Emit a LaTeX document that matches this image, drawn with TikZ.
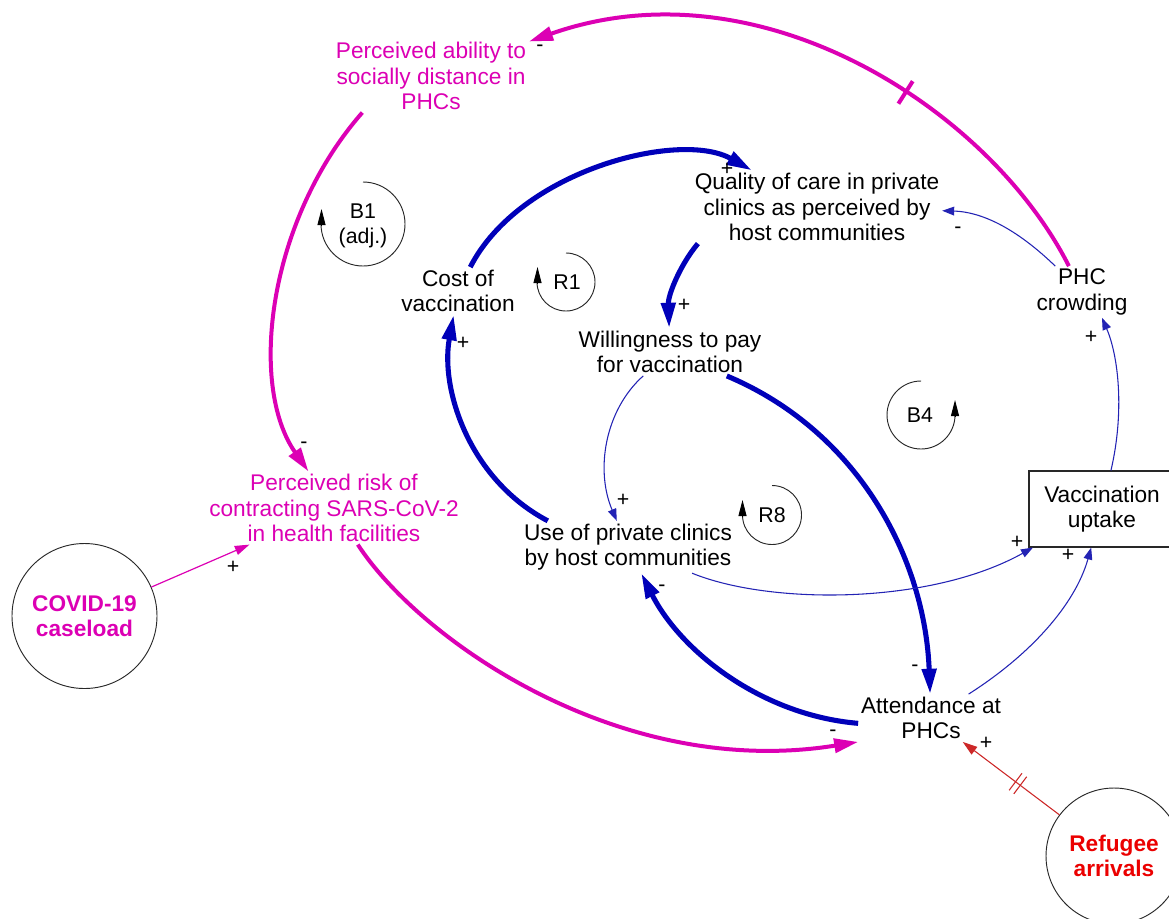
\documentclass[tikz,border=0pt]{standalone}
\usepackage{fontspec}
\setmainfont{Liberation Sans}
\usetikzlibrary{arrows.meta,decorations.markings}
\definecolor{mag}{RGB}{220,0,180}
\definecolor{dblue}{RGB}{0,0,185}
\definecolor{tblue}{RGB}{35,35,180}
\definecolor{rred}{RGB}{235,0,0}
\definecolor{lred}{RGB}{205,40,40}
\definecolor{loopc}{RGB}{40,40,40}
\begin{document}
\begin{tikzpicture}[x=0.75pt,y=-0.75pt,
  var/.style={align=center,inner sep=2pt,font=\fontsize{17}{19}\selectfont},
  exo/.style={circle,draw=loopc,line width=0.7pt,inner sep=0pt,align=center,font=\fontsize{17}{19}\selectfont\bfseries},
  looplbl/.style={align=center,inner sep=0pt,font=\fontsize{16}{19}\selectfont},
  pol/.style={inner sep=0pt,font=\fontsize{16}{16}\selectfont},
  thickblue/.style={draw=dblue,line width=3.8pt,-{Triangle[length=19pt,width=10.5pt]}},
  thinblue/.style={draw=tblue,line width=0.8pt,-{Triangle[length=9pt,width=6.5pt]}},
  thickmag/.style={draw=mag,line width=3pt,-{Triangle[length=18pt,width=10.5pt]}},
  thinmag/.style={draw=mag,line width=0.9pt,-{Triangle[length=11pt,width=7pt]}},
  redlink/.style={draw=lred,line width=0.8pt,-{Triangle[length=11pt,width=7pt]}},
  loopline/.style={draw=loopc,line width=0.7pt},
  looptip/.style={draw=black,fill=black,line width=0.7pt,-{Triangle[length=12pt,width=6pt]}}
]
\fill[white] (0,0) rectangle (1169,918);
\useasboundingbox (0,0) rectangle (1169,918);

% variables
\node[var,text=mag] (ability) at (431,76) {Perceived ability to\\socially distance in\\PHCs};
\node[var] (quality) at (817,207) {Quality of care in private\\clinics as perceived by\\host communities};
\node[var] (cost) at (458,291) {Cost of\\vaccination};
\node[var] (will) at (670,352) {Willingness to pay\\for vaccination};
\node[var] (phc) at (1082,292) {PHC\\crowding};
\node[var,text=mag] (risk) at (334,508) {Perceived risk of\\contracting SARS-CoV-2\\in health facilities};
\node[var] (use) at (628,547) {Use of private clinics\\by host communities};
\node[var,draw=loopc,line width=0.8pt,minimum width=109.5pt,minimum height=57pt] (vacc) at (1102,509) {Vaccination\\uptake};
\node[var] (att) at (931,718) {Attendance at\\PHCs};
\node[exo,text=mag,minimum size=108.75pt] (covid) at (84.5,616) {COVID-19\\caseload};
\node[exo,text=rred,minimum size=102pt] (refugee) at (1114,856) {Refugee\\arrivals};

% loop markers
\node[looplbl] (b1) at (363,226) {B1\\(adj.)};
\draw[loopline] (363,182) arc[start angle=-90,end angle=180,radius=42];
\coordinate (b1a) at (321.5,226);
\coordinate (b1b) at (321.5,209);
\draw[looptip] (b1a) -- (b1b);

\node[looplbl] (r1) at (567,282) {R1};
\draw[loopline] (566,253) arc[start angle=-90,end angle=180,radius=29];
\coordinate (r1a) at (537.5,284);
\coordinate (r1b) at (537.5,267);
\draw[looptip] (r1a) -- (r1b);

\node[looplbl] (r8) at (772,515) {R8};
\draw[loopline] (772,485.5) arc[start angle=-90,end angle=180,radius=29.5];
\coordinate (r8a) at (742.5,517);
\coordinate (r8b) at (742.5,500);
\draw[looptip] (r8a) -- (r8b);

\node[looplbl] (b4) at (920,415) {B4};
\draw[loopline] (921,381) arc[start angle=-90,end angle=-360,radius=34];
\coordinate (b4a) at (955,417);
\coordinate (b4b) at (955,400);
\draw[looptip] (b4a) -- (b4b);

% magenta links
\draw[thickmag,postaction={decorate,decoration={markings,mark=at position 0.38 with {\draw[mag,line width=3pt,arrows=-] (0,-10pt) -- (0,10pt);}}}]
  (phc) .. controls (990,110) and (760,-40) .. (ability);
\draw[thickmag] ([xshift=22pt]ability.south west) .. controls (268,220) and (248,385) .. (risk);
\draw[thickmag] (risk) .. controls (420,640) and (620,780) .. (att.south west);
\draw[thinmag] (covid) -- (risk);

% blue links
\draw[thickblue] (cost) .. controls (520,170) and (680,130) .. (quality);
\draw[thickblue] ([xshift=4.5pt]quality.south west) .. controls (680,265) and (668,295) .. (will);
\draw[thickblue] (will) .. controls (860,432) and (925,560) .. (att);
\draw[thickblue] ([yshift=-4pt]att.west) .. controls (760,715) and (680,650) .. (use);
\draw[thickblue] ([xshift=20pt]use.north west) .. controls (470,480) and (440,390) .. (cost);

\draw[thinblue] (phc) .. controls (1020,232) and (985,212) .. (quality);
\draw[thinblue] (will) .. controls (605,410) and (595,470) .. (use);
\draw[thinblue] (use) .. controls (770,605) and (930,605) .. (vacc);
\draw[thinblue] (att) .. controls (1030,655) and (1075,605) .. (vacc);
\draw[thinblue] (vacc) .. controls (1125,410) and (1118,355) .. ([xshift=15pt]phc.south);

% red link
\draw[redlink,postaction={decorate,decoration={markings,mark=at position 0.43 with {\draw[lred,line width=0.8pt,arrows=-] (-2.2pt,-8pt) -- (-2.2pt,8pt) (2.2pt,-8pt) -- (2.2pt,8pt);}}}]
  (refugee) -- (att);

% polarities
\node[pol] (p1) at (540,48) {-};
\node[pol] (p2) at (304,445) {-};
\node[pol] (p3) at (233,567) {+};
\node[pol] (p4) at (727,169) {+};
\node[pol] (p5) at (684,305) {+};
\node[pol] (p6) at (958,230) {-};
\node[pol] (p7) at (463,343) {+};
\node[pol] (p8) at (623,500) {+};
\node[pol] (p9) at (662,588) {-};
\node[pol] (p10) at (915,668) {-};
\node[pol] (p11) at (833,733) {-};
\node[pol] (p12) at (986,743) {+};
\node[pol] (p13) at (1017,542) {+};
\node[pol] (p14) at (1068,555) {+};
\node[pol] (p15) at (1091,337) {+};
\end{tikzpicture}
\end{document}
